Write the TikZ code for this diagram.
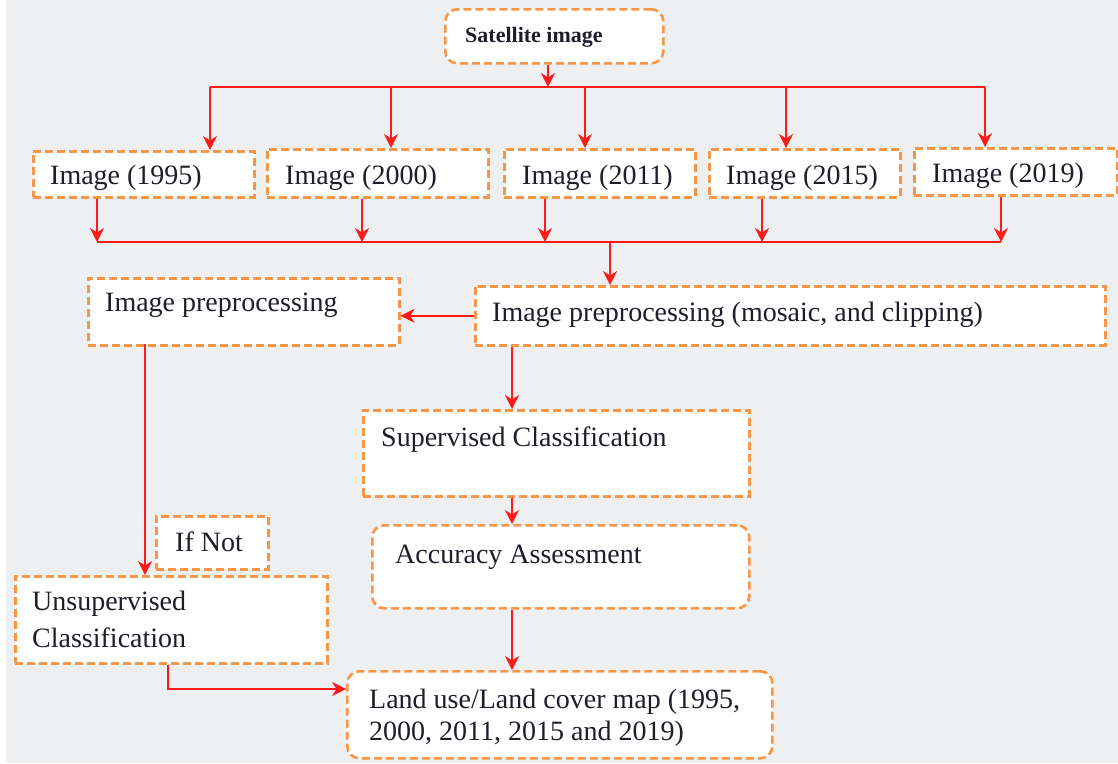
\documentclass[tikz,border=0pt]{standalone}
\usepackage{fontspec}
\setmainfont{Liberation Serif}
\usetikzlibrary{arrows.meta}
\definecolor{bg}{HTML}{EEEFF1}
\definecolor{dorange}{HTML}{F79646}
\definecolor{ared}{HTML}{FF1A1A}
\definecolor{ink}{HTML}{1E1E28}
\begin{document}
\begin{tikzpicture}[x=1pt,y=-1pt,
  boxr/.style={draw=dorange, line width=2.6pt, dash pattern=on 8pt off 4pt, fill=white, inner sep=0pt, anchor=north west},
  boxround/.style={boxr, rounded corners=12pt},
  lbl/.style={anchor=base west, inner sep=0pt, text=ink, font=\fontsize{28}{34}\selectfont},
  conn/.style={draw=ared, line width=1.5pt},
  arr/.style={conn, -{Stealth[length=14pt,width=14pt,inset=4.5pt]}},
]
\useasboundingbox (0,0) rectangle (1118,763);
\fill[white] (0,0) rectangle (1118,763);
\fill[bg] (6,0) rectangle (1118,763);

% boxes
\node[boxround, minimum width=218pt, minimum height=54pt] (sat) at (444,8) {};
\node[boxr, minimum width=221pt, minimum height=46pt] (b1995) at (32,150) {};
\node[boxr, minimum width=221pt, minimum height=48pt] (b2000) at (266,148) {};
\node[boxr, minimum width=191pt, minimum height=48pt] (b2011) at (503,148) {};
\node[boxr, minimum width=191pt, minimum height=48pt] (b2015) at (708,148) {};
\node[boxr, minimum width=203pt, minimum height=47pt] (b2019) at (913,147) {};
\node[boxr, minimum width=311pt, minimum height=67pt] (pre) at (87,277) {};
\node[boxr, minimum width=630pt, minimum height=59pt] (mos) at (474,285) {};
\node[boxr, minimum width=386pt, minimum height=86pt] (sup) at (362,409) {};
\node[boxr, minimum width=112pt, minimum height=53pt] (ifnot) at (155,515) {};
\node[boxround, minimum width=377pt, minimum height=83pt] (acc) at (371,524) {};
\node[boxr, minimum width=312pt, minimum height=87pt] (uns) at (14,575) {};
\node[boxround, minimum width=425pt, minimum height=87pt] (land) at (346,670) {};

% texts
\node[lbl, font=\fontsize{22}{26}\selectfont\bfseries] (tsat) at (465,42) {Satellite image};
\node[lbl] (t1995) at (50,184) {Image (1995)};
\node[lbl] (t2000) at (285,184) {Image (2000)};
\node[lbl] (t2011) at (522,184) {Image (2011)};
\node[lbl] (t2015) at (726,184) {Image (2015)};
\node[lbl] (t2019) at (932,182) {Image (2019)};
\node[lbl] (tpre) at (105,311) {Image preprocessing};
\node[lbl] (tmos) at (492,321) {Image preprocessing (mosaic, and clipping)};
\node[lbl] (tsup) at (381,446) {Supervised Classification};
\node[lbl] (tif) at (175,551) {If Not};
\node[lbl] (tacc) at (395,563) {Accuracy Assessment};
\node[lbl] (tuns1) at (32,610) {Unsupervised};
\node[lbl] (tuns2) at (32,647) {Classification};
\node[lbl] (tland1) at (369,708) {Land use/Land cover map (1995,};
\node[lbl] (tland2) at (369,740) {2000, 2011, 2015 and 2019)};

% top distribution
\coordinate (sj) at (548,87);
\coordinate (t1) at (210,87);
\coordinate (t2) at (391,87);
\coordinate (t3) at (585,87);
\coordinate (t4) at (786,87);
\coordinate (t5) at (985,87);
\draw[arr] (sj |- sat.south) -- (sj);
\draw[conn] (t1) -- (t5);
\draw[arr] (t1) -- (t1 |- b1995.north);
\draw[arr] (t2) -- (t2 |- b2000.north);
\draw[arr] (t3) -- (t3 |- b2011.north);
\draw[arr] (t4) -- (t4 |- b2015.north);
\draw[arr] (t5) -- (t5 |- b2019.north);

% collection
\coordinate (u1) at (97,242);
\coordinate (u2) at (362,242);
\coordinate (u3) at (545,242);
\coordinate (u4) at (762,242);
\coordinate (u5) at (1001,242);
\coordinate (m) at (610,242);
\draw[arr] (u1 |- b1995.south) -- (u1);
\draw[arr] (u2 |- b2000.south) -- (u2);
\draw[arr] (u3 |- b2011.south) -- (u3);
\draw[arr] (u4 |- b2015.south) -- (u4);
\draw[arr] (u5 |- b2019.south) -- (u5);
\draw[conn] (u1) -- (u5);
\draw[arr] (m) -- (m |- mos.north);

% preprocessing
\draw[arr] (mos.west) -- (mos.west -| pre.east);
\coordinate (p1) at (145,344);
\draw[arr] (p1) -- (p1 |- uns.north);

% main chain
\coordinate (cx) at (512,0);
\draw[arr] (cx |- mos.south) -- (cx |- sup.north);
\draw[arr] (cx |- sup.south) -- (cx |- acc.north);
\draw[arr] (cx |- acc.south) -- (cx |- land.north);

% unsupervised to land
\coordinate (q) at (168,689);
\draw[arr] (q |- uns.south) -- (q) -- (q -| land.west);
\end{tikzpicture}
\end{document}
